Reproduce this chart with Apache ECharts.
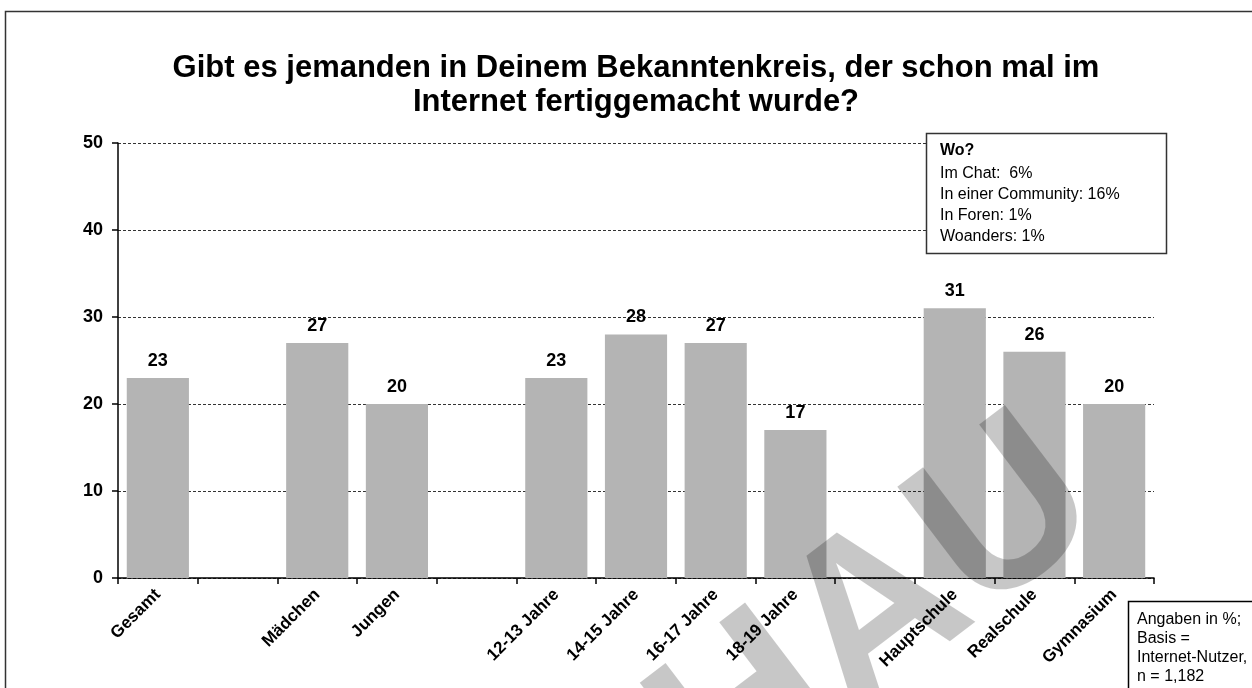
<!DOCTYPE html>
<html>
<head>
<meta charset="utf-8">
<script src="https://cdn.jsdelivr.net/npm/echarts@6/dist/echarts.min.js"></script>
<style>
html,body{margin:0;padding:0;background:#fff;}
#c{width:1252px;height:688px;}
</style>
</head>
<body>
<div id="c"></div>
<script>
const categories = ['Gesamt', '', 'Mädchen', 'Jungen', '', '12-13 Jahre', '14-15 Jahre', '16-17 Jahre', '18-19 Jahre', '', 'Hauptschule', 'Realschule', 'Gymnasium'];
const values = [23, null, 27, 20, null, 23, 28, 27, 17, null, 31, 26, 20];
const yTicks = { min: 0, max: 50, interval: 10 };
const titleLines = ['Gibt es jemanden in Deinem Bekanntenkreis, der schon mal im', 'Internet fertiggemacht wurde?'];
const woLines = ['Im Chat:  6%', 'In einer Community: 16%', 'In Foren: 1%', 'Woanders: 1%'];
const noteLines = ['Angaben in %;', 'Basis =', 'Internet-Nutzer,', 'n = 1,182'];

const chart = echarts.init(document.getElementById('c'), null, { renderer: 'canvas' });
const F = 'Arial, "Liberation Sans", sans-serif';

const option = {
  backgroundColor: '#fff',
  animation: false,
  grid: { left: 118, right: 98, top: 143, bottom: 110, containLabel: false },
  xAxis: {
    type: 'category',
    data: categories,
    boundaryGap: true,
    axisLine: { show: true, lineStyle: { color: '#000', width: 1.5 } },
    axisTick: { show: true, length: 6, interval: 0, alignWithLabel: false, lineStyle: { color: '#000', width: 1.5 } },
    axisLabel: { interval: 0, rotate: 45, margin: 14, color: '#000', fontFamily: F, fontWeight: 'bold', fontSize: 17 },
    splitLine: { show: false }
  },
  yAxis: {
    type: 'value',
    min: yTicks.min, max: yTicks.max, interval: yTicks.interval,
    axisLine: { show: true, lineStyle: { color: '#000', width: 1.5 } },
    axisTick: { show: true, length: 6, lineStyle: { color: '#000', width: 1.5 } },
    axisLabel: { color: '#000', fontFamily: F, fontWeight: 'bold', fontSize: 18, margin: 15 },
    splitLine: { show: true, lineStyle: { color: '#333', type: [3, 2], width: 1 } }
  },
  series: [{
    type: 'bar',
    data: values,
    barCategoryGap: '22%',
    itemStyle: { color: '#b4b4b4' },
    label: { show: true, position: 'top', distance: 8, color: '#000', fontFamily: F, fontWeight: 'bold', fontSize: 18 }
  }],
  graphic: [
    { type: 'rect', silent: true, shape: { x: 5.5, y: 11.5, width: 1260, height: 700 }, style: { fill: 'none', stroke: '#333', lineWidth: 1.5 }, z: 0 },
    { type: 'text', silent: true, x: 636, y: 51, style: { text: titleLines.join('\n'), font: 'bold 31px ' + F, fill: '#000', textAlign: 'center', lineHeight: 34 } },
    { type: 'rect', silent: true, shape: { x: 926.5, y: 133.5, width: 240, height: 120 }, style: { fill: '#fff', stroke: '#333', lineWidth: 1.5 }, z: 10 },
    { type: 'text', silent: true, x: 940, y: 143, z: 11, style: { text: 'Wo?', font: 'bold 16px ' + F, fill: '#000' } },
    { type: 'text', silent: true, x: 940, y: 163, z: 11, style: { text: woLines.join('\n'), font: '16px ' + F, fill: '#000', lineHeight: 21 } },
    { type: 'rect', silent: true, shape: { x: 1128.5, y: 601.5, width: 140, height: 100 }, style: { fill: '#fff', stroke: '#000', lineWidth: 1.5 }, z: 10 },
    { type: 'text', silent: true, x: 1137, y: 610, z: 11, style: { text: noteLines.join('\n'), font: '16px ' + F, fill: '#000', lineHeight: 19 } },
    { type: 'text', silent: true, x: 878, y: 618, rotation: 0.65, z: 20, style: { text: 'HAU', font: 'bold 225px ' + F, fill: 'rgba(0,0,0,0.22)', textAlign: 'center', textVerticalAlign: 'middle' } }
  ]
};
chart.setOption(option);
</script>
</body>
</html>
